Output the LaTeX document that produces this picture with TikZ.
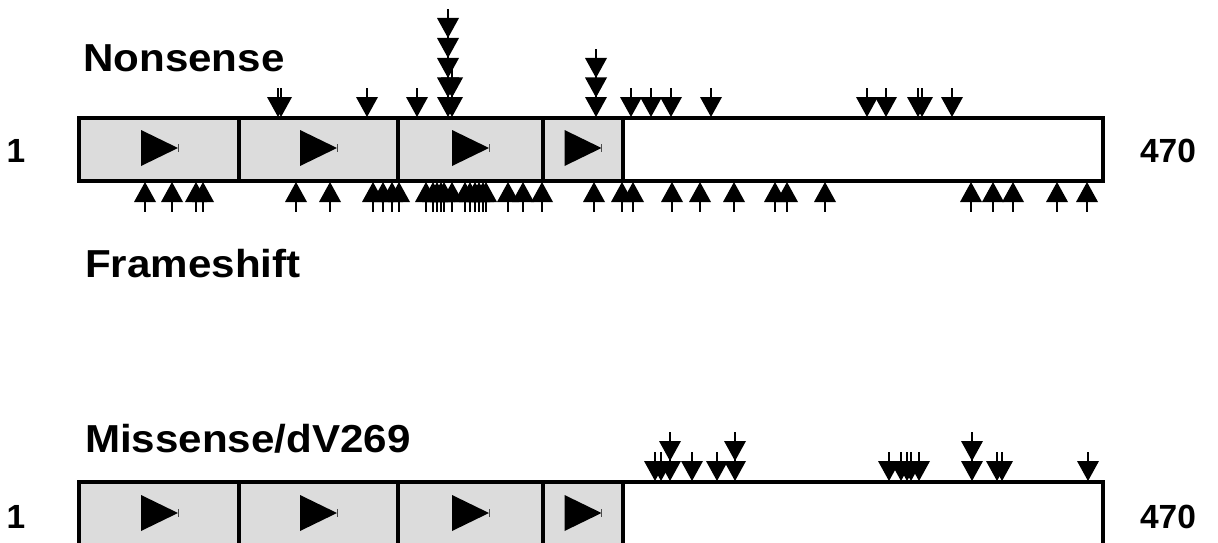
\documentclass[tikz,border=0pt]{standalone}
\usepackage{fontspec}
\setmainfont{Liberation Sans}
\definecolor{boxgray}{RGB}{220,220,220}
\newcommand{\dnarr}[2]{%
  \fill (#1-11,#2-20) -- (#1+11,#2-20) -- (#1,#2) -- cycle;
  \draw[stem] (#1,#2-19) -- (#1,#2-29);}
\newcommand{\uparr}[2]{%
  \fill (#1-11,#2+20) -- (#1+11,#2+20) -- (#1,#2) -- cycle;
  \draw[stem] (#1,#2+19) -- (#1,#2+30);}
\newcommand{\playtri}[2]{%
  \fill (#1-18.5,#2-18) -- (#1+18.5,#2) -- (#1-18.5,#2+18) -- cycle;
  \draw[line width=1pt,black!70] (#1+18.5,#2-4) -- (#1+18.5,#2+4);}
\newcommand{\wtitle}[1]{\scalebox{1.08}[1]{#1}}
\begin{document}
\begin{tikzpicture}[x=1pt,y=-1pt,
  stem/.style={line width=2pt},
  frame/.style={line width=4pt},
  title/.style={anchor=base west,inner sep=0pt,font=\bfseries\fontsize{39}{39}\selectfont},
  endlbl/.style={inner sep=0pt,font=\bfseries\fontsize{33.5}{33.5}\selectfont}]
\useasboundingbox (0,0) rectangle (1218,543);
\clip (0,0) rectangle (1218,543);
\fill[white] (0,0) rectangle (1218,543);
% titles
\node[title] (nons) at (83,72) {\wtitle{Nonsense}};
\node[title] (frame) at (85,277) {\wtitle{Frameshift}};
\node[title] (miss) at (85,452) {\wtitle{Missense/dV269}};
% end labels
\node[endlbl,anchor=base] (one1) at (16,162) {1};
\node[endlbl,anchor=base] (end1) at (1168,162) {470};
\node[endlbl,anchor=base] (one2) at (16,528) {1};
\node[endlbl,anchor=base] (end2) at (1168,528) {470};
% top protein
\fill[boxgray] (79,117.5) rectangle (623,181);
\draw[frame] (79,117.5) rectangle (1103,181);
\foreach \d in {239,398,543,623} {\draw[frame] (\d,117.5) -- (\d,181);}
\foreach \c in {159.5,318.5,470.5,583} {\playtri{\c}{148}}
% bottom protein
\fill[boxgray] (79,482) rectangle (623,548);
\draw[frame] (79,482) rectangle (1103,548);
\foreach \d in {239,398,543,623} {\draw[frame] (\d,482) -- (\d,548);}
\foreach \c in {159.5,318.5,470.5,583} {\playtri{\c}{513}}
% nonsense arrows
\foreach \x in {278,281,367,417,448,452,596,631,651,671,711,867,886,918,922,952} {\dnarr{\x}{117}}
\foreach \x in {448,452,596} {\dnarr{\x}{97.5}}
\foreach \x in {448,596} {\dnarr{\x}{78}}
\foreach \x in {448} {\dnarr{\x}{58}}
\foreach \x in {448} {\dnarr{\x}{38}}
% frameshift arrows
\foreach \x in {145,172,196,203,296,330,373,383,392,399,426,433,437,441,444,452,465,470,475,479,483,486,508,523,542,594,622,633,672,700,734,775,787,825,971,993,1013,1057,1087} {\uparr{\x}{182}}
% missense arrows
\foreach \x in {655,661,670,692,717,735,889,901,907,911,919,972,997,1002,1088} {\dnarr{\x}{481}}
\foreach \x in {670,735,972} {\dnarr{\x}{461}}
\end{tikzpicture}
\end{document}
